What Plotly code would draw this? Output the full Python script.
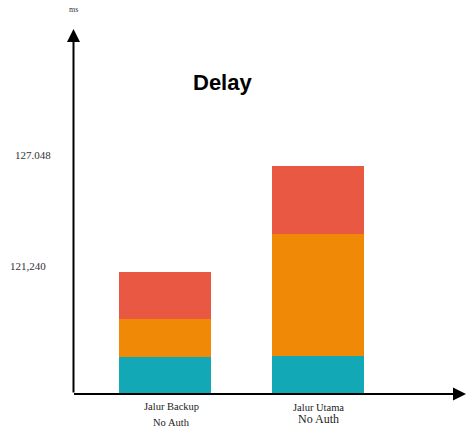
import plotly.graph_objects as go

# Data (schematic segment heights)
categories = ["Jalur Backup", "Jalur Utama"]
sub_labels = ["No Auth", "No Auth"]
seg_bottom = [36, 37]     # teal
seg_middle = [38, 122]    # orange
seg_top = [47, 68]        # red
value_labels = ["127.048", "121,240"]
unit_label = "ms"
title_text = "Delay"

W, H = 468, 433
L, R, T, B = 73, 0, 20, 40
pw, ph = W - L - R, H - T - B

def px(xp):
    return (xp - L) / pw

def py(yp):
    return (H - B - yp) / ph

xpos = [0, 1]
colors = ["#13A8B5", "#F08906", "#E85843"]

fig = go.Figure()
for vals, c in zip([seg_bottom, seg_middle, seg_top], colors):
    fig.add_trace(go.Bar(x=xpos, y=vals, marker=dict(color=c, line=dict(width=0)),
                         width=0.6, showlegend=False, hoverinfo="skip"))

fig.update_layout(
    barmode="stack",
    width=W, height=H,
    margin=dict(l=L, r=R, t=T, b=B),
    paper_bgcolor="white", plot_bgcolor="white",
    xaxis=dict(range=[-0.604, 1.982], showgrid=False, zeroline=False,
               showticklabels=False, showline=False, ticks=""),
    yaxis=dict(range=[0, ph], showgrid=False, zeroline=False,
               showticklabels=False, showline=False, ticks=""),
)

serif = "Liberation Serif, Times New Roman, serif"
ann = []
# axes arrows (offsets in pixels)
ann.append(dict(xref="paper", yref="paper", x=px(73.5), y=py(29), ax=0, ay=365,
                showarrow=True, arrowhead=2, arrowsize=1.3,
                arrowwidth=2, arrowcolor="black", text=""))
ann.append(dict(xref="paper", yref="paper", x=px(466), y=py(394), ax=-393.5, ay=0,
                showarrow=True, arrowhead=2, arrowsize=1.3,
                arrowwidth=2, arrowcolor="black", text=""))
# title
ann.append(dict(xref="paper", yref="paper", x=px(222.5), y=py(82), text="<b>%s</b>" % title_text,
                showarrow=False, font=dict(family="Liberation Sans, Arial", size=22, color="black"),
                xanchor="center", yanchor="middle"))
# unit
ann.append(dict(xref="paper", yref="paper", x=px(73), y=py(10), text=unit_label,
                showarrow=False, font=dict(family=serif, size=8, color="#333"),
                xanchor="center", yanchor="middle"))
# value labels
ann.append(dict(xref="paper", yref="paper", x=px(33), y=py(155), text=value_labels[0],
                showarrow=False, font=dict(family=serif, size=11, color="#333"),
                xanchor="center", yanchor="middle"))
ann.append(dict(xref="paper", yref="paper", x=px(28), y=py(266), text=value_labels[1],
                showarrow=False, font=dict(family=serif, size=11, color="#333"),
                xanchor="center", yanchor="middle"))
# category labels
cat_y = [(406, 422), (407, 419)]
cat_sizes = [(10.5, 10.5), (10.5, 12)]
cat_x_shift = [6, 0]
for i, (c, s) in enumerate(zip(categories, sub_labels)):
    ann.append(dict(xref="x", yref="paper", x=xpos[i], y=py(cat_y[i][0]), text=c,
                    xshift=cat_x_shift[i],
                    showarrow=False, font=dict(family=serif, size=cat_sizes[i][0], color="#222"),
                    xanchor="center", yanchor="middle"))
    ann.append(dict(xref="x", yref="paper", x=xpos[i], y=py(cat_y[i][1]), text=s,
                    xshift=cat_x_shift[i],
                    showarrow=False, font=dict(family=serif, size=cat_sizes[i][1], color="#222"),
                    xanchor="center", yanchor="middle"))
fig.update_layout(annotations=ann)

fig.write_html("out.html", config={"displayModeBar": False},
               post_script="document.body.style.margin='0';")
